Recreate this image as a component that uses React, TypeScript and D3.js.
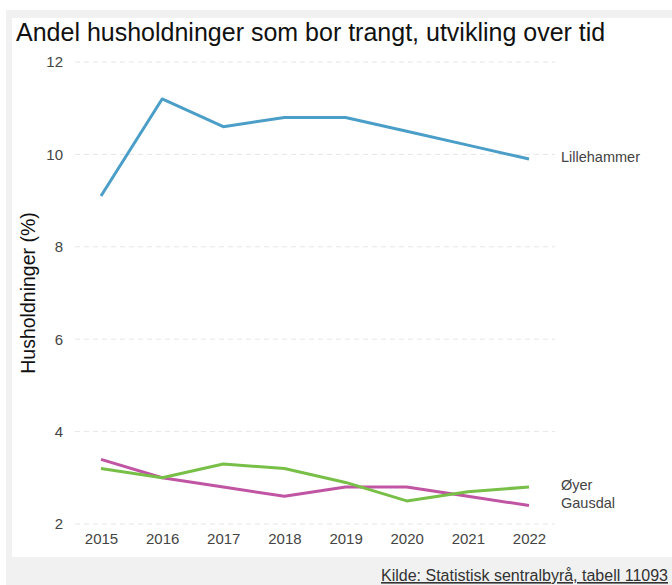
import { useEffect, useRef } from 'react'
import * as d3 from 'd3'

const years = [2015, 2016, 2017, 2018, 2019, 2020, 2021, 2022]
const lillehammer = [9.1, 11.2, 10.6, 10.8, 10.8, 10.5, 10.2, 9.9]
const oyer = [3.2, 3.0, 3.3, 3.2, 2.9, 2.5, 2.7, 2.8]
const gausdal = [3.4, 3.0, 2.8, 2.6, 2.8, 2.8, 2.6, 2.4]
const yTicks = [2, 4, 6, 8, 10, 12]

const seriesList = [
	{ name: 'Lillehammer', values: lillehammer, color: '#4a9ec8', labelDy: -2 },
	{ name: 'Gausdal', values: gausdal, color: '#c055a3', labelDy: -3 },
	{ name: 'Øyer', values: oyer, color: '#78bf48', labelDy: -2 },
]

const App = () => {
	const svgRef = useRef(null)

	useEffect(() => {
		const W = 672
		const H = 585
		const svg = d3.select(svgRef.current)
		svg.selectAll('*').remove()
		svg.attr('width', W).attr('height', H)

		const font = 'Arial, "Liberation Sans", sans-serif'

		// Backgrounds
		svg.append('rect').attr('x', 6).attr('y', 10).attr('width', W - 6).attr('height', H - 10).attr('fill', '#f0f1f0')
		svg.append('rect').attr('x', 12).attr('y', 18).attr('width', W - 12).attr('height', 539).attr('fill', '#ffffff')

		const x = d3.scaleLinear().domain([2015 - 0.425, 2022 + 0.425]).range([75, 555])
		const y = d3.scaleLinear().domain([2, 12]).range([524, 62])

		// Title
		svg
			.append('text')
			.attr('x', 16)
			.attr('y', 41)
			.style('font-family', font)
			.style('font-size', '25px')
			.attr('fill', '#111')
			.text('Andel husholdninger som bor trangt, utvikling over tid')

		// Grid
		svg
			.append('g')
			.selectAll('line')
			.data(yTicks)
			.enter()
			.append('line')
			.attr('x1', x.range()[0])
			.attr('x2', x.range()[1])
			.attr('y1', (d) => y(d))
			.attr('y2', (d) => y(d))
			.attr('stroke', '#e6e6e6')
			.attr('stroke-width', 1)
			.attr('stroke-dasharray', '5,4')

		// Y axis
		const yAxis = svg
			.append('g')
			.attr('transform', `translate(${x.range()[0]},0)`)
			.call(d3.axisLeft(y).tickValues(yTicks).tickSize(0).tickPadding(12))
		yAxis.select('.domain').remove()
		yAxis.selectAll('text').style('font-family', font).style('font-size', '15px').attr('fill', '#444')

		// X axis
		const xAxis = svg
			.append('g')
			.attr('transform', `translate(0,${y(2)})`)
			.call(d3.axisBottom(x).tickValues(years).tickFormat(d3.format('d')).tickSize(0).tickPadding(9))
		xAxis.select('.domain').remove()
		xAxis.selectAll('text').style('font-family', font).style('font-size', '15px').attr('fill', '#444')

		// Y label
		svg
			.append('text')
			.attr('transform', `translate(35,${(y(2) + y(12)) / 2}) rotate(-90)`)
			.style('text-anchor', 'middle')
			.style('font-family', font)
			.style('font-size', '19.5px')
			.attr('fill', '#111')
			.text('Husholdninger (%)')

		// Lines
		const line = d3
			.line<number>()
			.x((d, i) => x(years[i]))
			.y((d) => y(d))

		seriesList.forEach((s) => {
			svg
				.append('path')
				.datum(s.values)
				.attr('d', line)
				.attr('fill', 'none')
				.attr('stroke', s.color)
				.attr('stroke-width', 3)
				.attr('stroke-linejoin', 'round')

			svg
				.append('text')
				.attr('x', x(2022) + 32)
				.attr('y', y(s.values[s.values.length - 1]) + s.labelDy)
				.attr('dy', '0.35em')
				.style('font-family', font)
				.style('font-size', '14.5px')
				.attr('fill', '#444')
				.text(s.name)
		})

		// Source
		svg
			.append('text')
			.attr('x', 668)
			.attr('y', 581)
			.style('text-anchor', 'end')
			.style('font-family', font)
			.style('font-size', '16px')
			.style('text-decoration', 'underline')
			.attr('fill', '#333')
			.text('Kilde: Statistisk sentralbyrå, tabell 11093')
	}, [])

	return <svg ref={svgRef} style={{ position: 'absolute', left: 0, top: 0 }}></svg>
}

export default App
